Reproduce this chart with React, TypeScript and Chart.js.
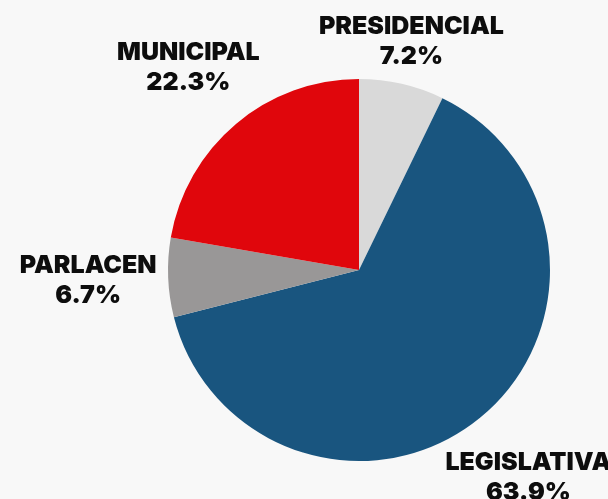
import React, { useEffect, useRef } from "react";
import { Chart, registerables } from "chart.js";

Chart.register(...registerables);

const categories = ["PRESIDENCIAL", "LEGISLATIVA", "PARLACEN", "MUNICIPAL"];
const values = [7.2, 63.9, 6.7, 22.3];
const valueLabels = ["7.2%", "63.9%", "6.7%", "22.3%"];
const colors = ["#d9d9d9", "#19557f", "#999797", "#e0060c"];

const labelPlugin = {
  id: "outerLabels",
  afterDatasetsDraw(chart: any, _args: any, opts: any) {
    const ctx = chart.ctx;
    const meta = chart.getDatasetMeta(0);
    const dist: number[] = opts.distance;
    ctx.save();
    ctx.fillStyle = "#0d0d0d";
    ctx.textAlign = "center";
    ctx.textBaseline = "middle";
    ctx.font = "900 25px Inter, 'DejaVu Sans', sans-serif";
    meta.data.forEach((arc: any, i: number) => {
      const p = arc.getProps(["x", "y", "startAngle", "endAngle", "outerRadius"], true);
      const mid = (p.startAngle + p.endAngle) / 2;
      const R = p.outerRadius * dist[i];
      const cx = p.x + Math.cos(mid) * R;
      const cy = p.y + Math.sin(mid) * R;
      ctx.fillText(categories[i], cx, cy - 15);
      ctx.fillText(valueLabels[i], cx, cy + 15);
    });
    ctx.restore();
  },
};

const bgPlugin = {
  id: "bg",
  beforeDraw(chart: any) {
    const ctx = chart.ctx;
    ctx.save();
    ctx.fillStyle = "#f8f8f8";
    ctx.fillRect(0, 0, chart.width, chart.height);
    ctx.restore();
  },
};

export default function App() {
  const ref = useRef<HTMLCanvasElement>(null);
  useEffect(() => {
    document.body.style.margin = "0";
    const chart = new Chart(ref.current!, {
      type: "pie",
      data: {
        labels: categories,
        datasets: [
          {
            data: values,
            backgroundColor: colors,
            borderWidth: 0,
          },
        ],
      },
      options: {
        animation: false,
        responsive: false,
        layout: { padding: { left: 168, right: 58, top: 79, bottom: 38 } },
        plugins: {
          legend: { display: false },
          tooltip: { enabled: false },
          outerLabels: { distance: [1.225, 1.403, 1.419, 1.387] },
        } as any,
      },
      plugins: [bgPlugin, labelPlugin],
    });
    return () => chart.destroy();
  }, []);
  return (
    <div style={{ width: 608, height: 499 }}>
      <canvas ref={ref} width={608} height={499} />
    </div>
  );
}
